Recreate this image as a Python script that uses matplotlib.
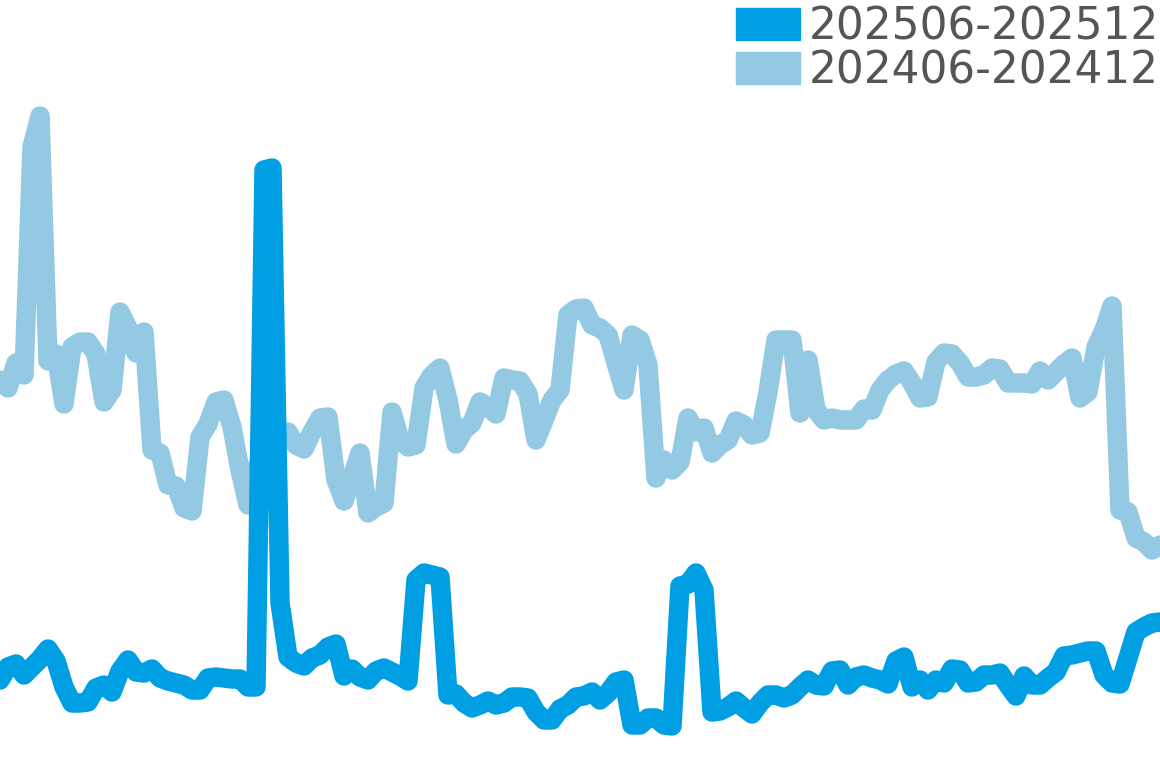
import matplotlib
matplotlib.use("Agg")
import matplotlib.pyplot as plt
from matplotlib.patches import Rectangle
import numpy as np

# Series labels and colours
labels = ["202506-202512", "202406-202412"]
colors = ["#009FE3", "#93C9E3"]

# Values (arbitrary units), one per sample step
values_2024 = [
    388, 380, 405, 393, 621, 652, 407, 414, 364, 421,
    426, 426, 414, 366, 378, 456, 440, 415, 436, 318,
    315, 283, 282, 260, 257, 331, 344, 366, 368, 341,
    298, 263, 298, 318, 328, 330, 336, 323, 319, 336,
    350, 351, 288, 267, 291, 315, 255, 261, 265, 356,
    328, 321, 323, 380, 393, 400, 368, 324, 338, 345,
    366, 361, 354, 390, 388, 387, 374, 328, 348, 368,
    378, 453, 459, 460, 443, 440, 433, 405, 378, 433,
    428, 403, 290, 308, 298, 306, 350, 336, 340, 315,
    323, 328, 347, 343, 333, 335, 376, 428, 428, 428,
    355, 408, 358, 348, 350, 348, 348, 348, 359, 358,
    378, 388, 394, 397, 385, 370, 371, 406, 415, 414,
    405, 391, 391, 393, 400, 399, 385, 385, 385, 384,
    397, 388, 396, 404, 410, 370, 376, 421, 438, 462,
    258, 256, 230, 226, 218, 223,
]

values_2025 = [
    88, 101, 104, 93, 101, 109, 119, 107, 81, 65,
    65, 66, 80, 83, 76, 97, 108, 96, 95, 99,
    90, 87, 85, 83, 78, 78, 90, 91, 90, 89,
    89, 81, 81, 598, 600, 165, 111, 105, 102, 110,
    113, 121, 124, 92, 99, 91, 88, 97, 100, 96,
    92, 87, 188, 195, 193, 191, 73, 74, 65, 60,
    63, 67, 63, 65, 71, 71, 70, 56, 48, 48,
    59, 63, 71, 72, 76, 68, 75, 86, 88, 43,
    43, 50, 50, 43, 42, 182, 184, 195, 178, 56,
    57, 61, 67, 60, 54, 65, 73, 73, 70, 73,
    81, 88, 83, 82, 97, 98, 83, 91, 93, 90,
    88, 84, 107, 111, 81, 88, 78, 88, 85, 99,
    98, 85, 86, 93, 93, 95, 83, 72, 92, 83,
    83, 90, 96, 112, 113, 115, 117, 117, 93, 85,
    84, 110, 136, 141, 145, 146,
]

n = max(len(values_2024), len(values_2025))
x24 = np.arange(len(values_2024))
x25 = np.arange(len(values_2025))

fig = plt.figure(figsize=(11.6, 7.68), dpi=100)
ax = fig.add_axes([0, 0, 1, 1])
ax.plot(x24, values_2024, color=colors[1], lw=14,
        solid_joinstyle="round", solid_capstyle="round")
ax.plot(x25, values_2025, color=colors[0], lw=14,
        solid_joinstyle="round", solid_capstyle="round")
ax.set_xlim(0, n - 1)
ax.set_ylim(0, 768)
ax.axis("off")

# Legend (top right)
W, H = 1160.0, 768.0
for k, (lab, col) in enumerate(zip(labels, colors)):
    top = 8 + 44 * k
    fig.patches.append(Rectangle((736 / W, 1 - (top + 32) / H), 64 / W, 32 / H,
                                 transform=fig.transFigure, color=col, zorder=5))
    fig.text(809 / W, 1 - (top + 31) / H, lab, fontsize=31.5, color="#555555",
             family="DejaVu Sans", va="baseline", ha="left", zorder=6)

fig.savefig("out.png", dpi=100)
